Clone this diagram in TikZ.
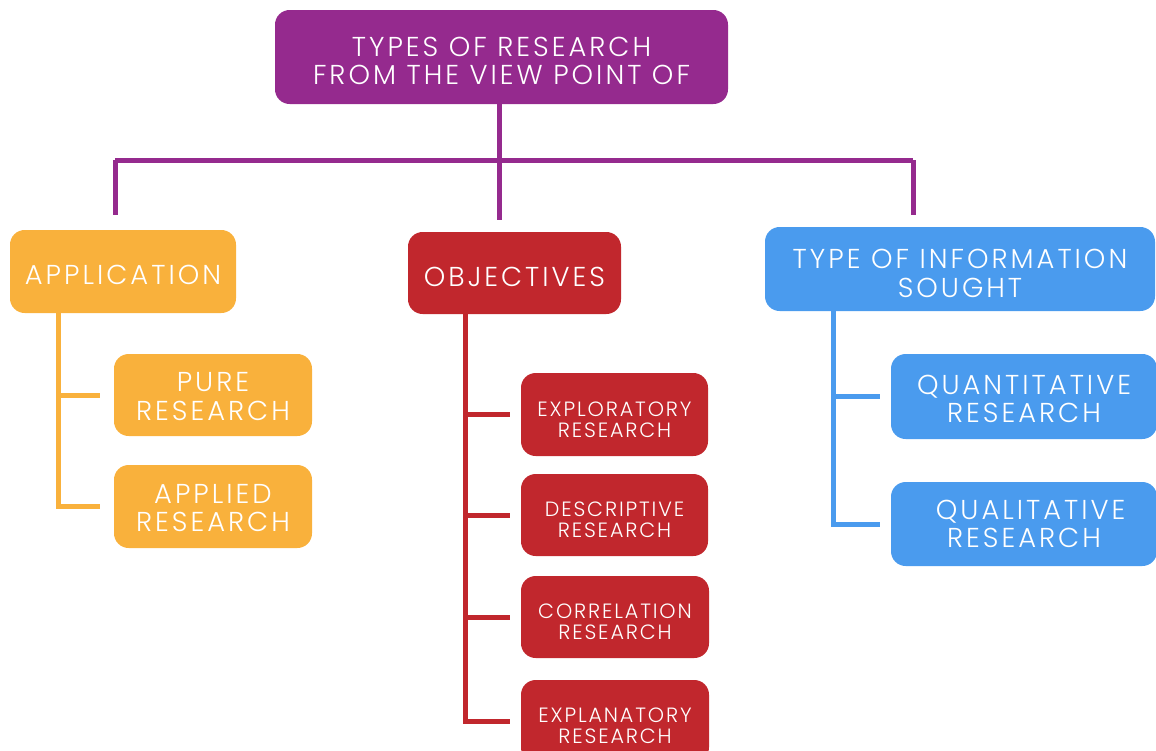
\documentclass[tikz,border=0pt]{standalone}
\usepackage{fontspec}
\setmainfont{Poppins}[UprightFont=* Light]
\newfontfamily\bigfam{Poppins}[UprightFont=* Light, LetterSpace=11]
\newfontfamily\smallfam{Poppins}[UprightFont=* Light, LetterSpace=9]
\definecolor{cpurple}{HTML}{952A8E}
\definecolor{corange}{HTML}{F9B13C}
\definecolor{cred}{HTML}{C1272D}
\definecolor{cblue}{HTML}{4A9BEE}
\tikzset{
  box/.style={rounded corners=11pt, inner sep=0pt},
  lbl/.style={text=white, align=center, inner sep=0pt},
  bigtxt/.style={lbl, font=\bigfam\fontsize{20.5}{21.5}\selectfont},
  smalltxt/.style={lbl, font=\smallfam\fontsize{15.5}{15.5}\selectfont},
  pline/.style={draw=cpurple, line width=3.75pt},
  oline/.style={draw=corange, line width=3.75pt},
  rline/.style={draw=cred, line width=3.75pt},
  bline/.style={draw=cblue, line width=3.75pt},
}
\begin{document}
\begin{tikzpicture}[x=0.75pt,y=-0.75pt]
\useasboundingbox (0,0) rectangle (1156,750);
\clip (0,0) rectangle (1156,750);
% boxes
\node[box,fill=cpurple,minimum width=339.75pt,minimum height=70.5pt] (top) at (501.5,57) {};
\node[box,fill=corange,minimum width=169.5pt,minimum height=62.25pt] (app) at (123,271.5) {};
\node[box,fill=corange,minimum width=148.5pt,minimum height=61.5pt] (pure) at (213,395) {};
\node[box,fill=corange,minimum width=148.5pt,minimum height=62.25pt] (applied) at (213,506.5) {};
\node[box,fill=cred,minimum width=159.75pt,minimum height=61.5pt] (obj) at (514.5,273) {};
\node[box,fill=cred,minimum width=140.25pt,minimum height=62.25pt] (explor) at (614.5,414.5) {};
\node[box,fill=cred,minimum width=140.25pt,minimum height=61.5pt] (descr) at (614.5,515) {};
\node[box,fill=cred,minimum width=141pt,minimum height=61.5pt] (corr) at (615,617) {};
\node[box,fill=cred,minimum width=141pt,minimum height=61.5pt] (expla) at (615,721) {};
\node[box,fill=cblue,minimum width=292.5pt,minimum height=63pt] (type) at (960,269) {};
\node[box,fill=cblue,minimum width=199.5pt,minimum height=63.75pt] (quant) at (1024,396.5) {};
\node[box,fill=cblue,minimum width=199.5pt,minimum height=63pt] (qual) at (1024,524) {};
% texts
\node[bigtxt] (top-t) at ([yshift=-3pt]top.center) {TYPES OF RESEARCH\\FROM THE VIEW POINT OF};
\node[bigtxt] (app-t) at ([yshift=-2.6pt]app.center) {APPLICATION};
\node[bigtxt] (pure-t) at ([yshift=-1.1pt]pure.center) {PURE\\RESEARCH};
\node[bigtxt] (applied-t) at ([yshift=-1.1pt]applied.center) {APPLIED\\RESEARCH};
\node[bigtxt] (obj-t) at ([yshift=-3pt]obj.center) {OBJECTIVES};
\node[smalltxt] (explor-t) at ([yshift=-3.75pt]explor.center) {EXPLORATORY\\RESEARCH};
\node[smalltxt] (descr-t) at ([yshift=-3.75pt]descr.center) {DESCRIPTIVE\\RESEARCH};
\node[smalltxt] (corr-t) at ([yshift=-3.75pt]corr.center) {CORRELATION\\RESEARCH};
\node[smalltxt] (expla-t) at ([yshift=-3.75pt]expla.center) {EXPLANATORY\\RESEARCH};
\node[bigtxt] (type-t) at ([yshift=-3.4pt]type.center) {TYPE OF INFORMATION\\SOUGHT};
\node[bigtxt] (quant-t) at ([yshift=-1.9pt]quant.center) {QUANTITATIVE\\RESEARCH};
\node[bigtxt] (qual-t) at (qual.center) {\hspace*{10pt}QUALITATIVE\\RESEARCH};
% purple tree
\coordinate (jl) at (115,160);
\coordinate (jr) at (913,160);
\coordinate (jm) at (499,160);
\draw[pline] (jl) -- (jr);
\draw[pline,shorten >=9pt] (top.south -| jm) -- (jm |- obj.north);
\draw[pline,shorten >=11pt] (jl) -- (jl |- app.north);
\draw[pline,shorten >=9pt] (jr) -- (jr |- type.north);
% orange tree
\coordinate (ot) at (58,313);
\draw[oline] (ot) |- ([xshift=-10.5pt]applied.west);
\draw[oline,shorten >=10.5pt] (ot |- pure.west) -- (pure.west);
% red tree
\coordinate (rt) at (465,314);
\draw[rline] (rt) |- ([xshift=-8.25pt]expla.west);
\draw[rline,shorten >=8.25pt] (rt |- explor.west) -- (explor.west);
\draw[rline,shorten >=8.25pt] (rt |- descr.west) -- (descr.west);
\draw[rline,shorten >=8.25pt] (rt |- corr.west) -- (corr.west);
% blue tree
\coordinate (bt) at (833,311);
\draw[bline] (bt) |- ([xshift=-8.25pt]qual.west);
\draw[bline,shorten >=8.25pt] (bt |- quant.west) -- (quant.west);
\end{tikzpicture}
\end{document}
